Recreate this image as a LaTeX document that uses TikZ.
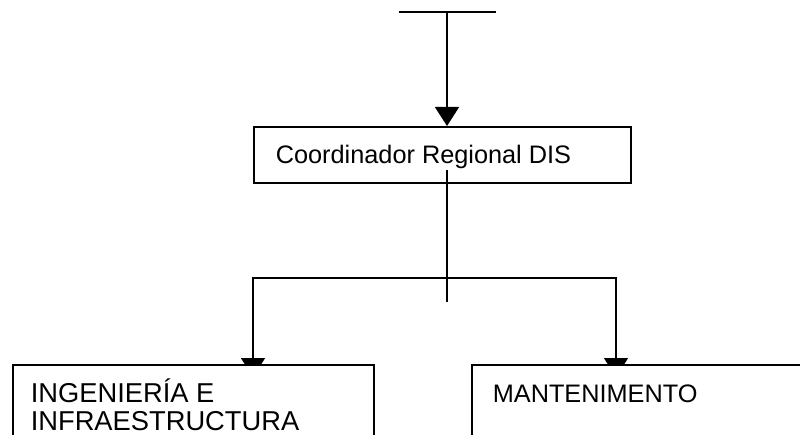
\documentclass[tikz,border=0pt]{standalone}
\usepackage{fontspec}
\setmainfont{Liberation Sans}
\usetikzlibrary{arrows.meta,backgrounds}
\begin{document}
\begin{tikzpicture}[x=1pt,y=-1pt, line width=1.6pt,
  box/.style={draw, line width=1.6pt, fill=white, inner sep=0pt, anchor=north west},
  lbl/.style={inner sep=0pt, anchor=base west, font=\fontsize{25.3}{28}\selectfont},
  biglbl/.style={inner sep=0pt, anchor=base west, font=\fontsize{27.3}{30}\selectfont},
  arr/.style={line width=1.6pt, -{Triangle[length=19pt,width=24pt]}}]
\useasboundingbox (0,0) rectangle (800,435);
\coordinate (tl) at (399,12);
\coordinate (tr) at (496,12);
\coordinate (top) at (447,12);
\node[box, minimum width=377pt, minimum height=56pt] (coord) at (253,126) {};
\node[lbl] (coordtxt) at (275,164) {Coordinador Regional DIS};
\node[box, minimum width=361pt, minimum height=120pt] (ing) at (12,364) {};
\node[biglbl] (ing1) at (30,402) {INGENIERÍA E};
\node[biglbl] (ing2) at (30,430) {INFRAESTRUCTURA};
\node[box, minimum width=400pt, minimum height=120pt] (mant) at (471,364) {};
\node[lbl] (manttxt) at (492,402) {MANTENIMENTO};
\coordinate (jc) at (447,278);
\coordinate (jl) at (253,278);
\coordinate (jr) at (616,278);
\coordinate (stub) at (447,302);
\coordinate (src) at (447,170);
\coordinate (tipL) at (253,377);
\coordinate (tipR) at (616,377);
\begin{scope}[on background layer]
  \draw[arr] (jc) -- (jl) -- (tipL);
  \draw[arr] (jc) -- (jr) -- (tipR);
\end{scope}
\draw (tl) -- (tr);
\draw[arr] (top) -- (top |- coord.north);
\draw (src) -- (stub);
\end{tikzpicture}
\end{document}
